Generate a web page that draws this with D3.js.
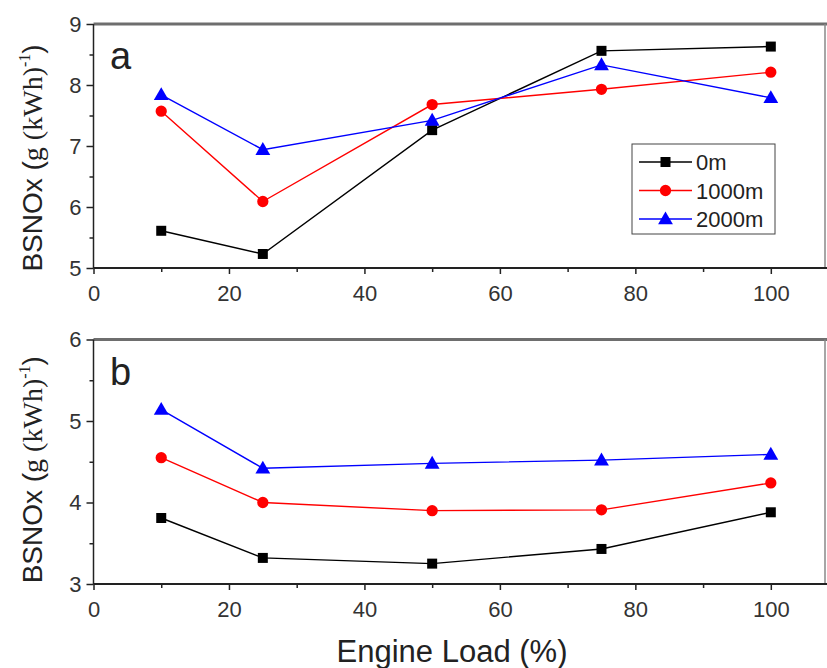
<!DOCTYPE html>
<html>
<head>
<meta charset="utf-8">
<script src="https://cdn.jsdelivr.net/npm/d3@7"></script>
<style>
 body{margin:0;background:#fff;}
 text{font-family:"Liberation Sans",Arial,sans-serif;}
</style>
</head>
<body>
<div id="chart"></div>
<script>
// engine load (%) shared by both panels
var loads=[10,25,50,75,100];
var seriesNames=["0m","1000m","2000m"];
var seriesColors=["#000000","#ff0000","#0000ff"];
var seriesShapes=["square","circle","triangle"];

// panel a values
var aZero=[5.61,5.23,7.26,8.56,8.63];
var aThousand=[7.57,6.09,7.68,7.93,8.21];
var aTwoThousand=[7.84,6.94,7.42,8.33,7.79];

// panel b values
var bZero=[3.81,3.32,3.25,3.43,3.88];
var bThousand=[4.55,4.0,3.9,3.91,4.24];
var bTwoThousand=[5.14,4.42,4.48,4.52,4.59];

var xTicks=[0,20,40,60,80,100];
var aYTicks=[5,6,7,8,9];
var bYTicks=[3,4,5,6];

var W=827,H=668;
var svg=d3.select("#chart").append("svg").attr("width",W).attr("height",H);

var x=d3.scaleLinear().domain([0,108]).range([93.5,825]);

function symPath(shape){
 if(shape==="square") return d3.symbol(d3.symbolSquare,100)();
 if(shape==="circle") return d3.symbol(d3.symbolCircle,100)();
 return d3.symbol(d3.symbolTriangle,95)();
}

function panel(top,bottom,domain,yTicks,data,letter,legend,titleShift){
 var y=d3.scaleLinear().domain(domain).range([bottom,top]);
 var g=svg.append("g");

 // top border (gray, thick) and right border
 g.append("line").attr("x1",x(0)).attr("x2",W).attr("y1",top).attr("y2",top)
  .attr("stroke","#6e6e6e").attr("stroke-width",3);
 g.append("line").attr("x1",x(108)).attr("x2",x(108)).attr("y1",top).attr("y2",bottom)
  .attr("stroke","#888").attr("stroke-width",1.5);

 // x axis
 var xa=g.append("g").attr("transform","translate(0,"+bottom+")")
  .call(d3.axisBottom(x).tickValues(xTicks).tickSize(6).tickPadding(11).tickFormat(d3.format("d")));
 g.append("g").attr("transform","translate(0,"+bottom+")")
  .call(d3.axisBottom(x).tickValues([10,30,50,70,90]).tickSize(4).tickFormat(""))
  .call(function(s){s.select(".domain").remove();});
 xa.select(".domain").attr("d","M"+x(0)+",0H"+W).attr("stroke","#222").attr("stroke-width",2);

 // y axis
 var ya=g.append("g").attr("transform","translate("+x(0)+",0)")
  .call(d3.axisLeft(y).tickValues(yTicks).tickSize(7).tickPadding(5).tickFormat(d3.format("d")));
 var minors=d3.range(domain[0]+0.5,domain[1],1);
 g.append("g").attr("transform","translate("+x(0)+",0)")
  .call(d3.axisLeft(y).tickValues(minors).tickSize(4).tickFormat(""))
  .call(function(s){s.select(".domain").remove();});
 ya.select(".domain").attr("d","M0,"+top+"V"+bottom).attr("stroke","#222").attr("stroke-width",1.5);

 g.selectAll(".tick line").attr("stroke","#222").attr("stroke-width",1.5);
 g.selectAll(".tick text").attr("font-size",22).attr("fill","#333")
  .attr("font-family","'Liberation Sans',Arial,sans-serif");

 // series
 data.forEach(function(vals,i){
  var pts=loads.map(function(l,j){return [l,vals[j]];});
  g.append("path").datum(pts)
   .attr("fill","none").attr("stroke",seriesColors[i]).attr("stroke-width",1.4)
   .attr("d",d3.line().x(function(d){return x(d[0]);}).y(function(d){return y(d[1]);}));
  g.selectAll(null).data(pts).enter().append("path")
   .attr("d",symPath(seriesShapes[i]))
   .attr("transform",function(d){return "translate("+x(d[0])+","+(y(d[1])+(seriesShapes[i]==="triangle"?1:0))+")";})
   .attr("fill",seriesColors[i]);
 });

 // panel letter
 g.append("text").attr("x",110).attr("y",top+45).attr("font-size",38).attr("fill","#222").text(letter);

 // y title
 var cy=(top+bottom)/2+titleShift;
 var t=g.append("text").attr("transform","translate(42,"+cy+") rotate(-90)")
  .attr("text-anchor","middle").attr("font-size",28).attr("fill","#222");
 t.append("tspan").text("BSNOx (");
 t.append("tspan").attr("font-family","'Liberation Serif','Times New Roman',serif").text("g (kWh)");
 t.append("tspan").attr("font-size",16).attr("dy",-12).attr("font-family","'Liberation Serif',serif").text("-1");
 t.append("tspan").attr("dy",12).text(")");

 if(legend){
  var lx=632,ly=144;
  g.append("rect").attr("x",lx).attr("y",ly).attr("width",143).attr("height",90)
   .attr("fill","#fff").attr("stroke","#444").attr("stroke-width",1);
  seriesNames.forEach(function(n,i){
   var yy=ly+18+i*28.5;
   g.append("line").attr("x1",lx+7).attr("x2",lx+60).attr("y1",yy).attr("y2",yy)
    .attr("stroke",seriesColors[i]).attr("stroke-width",1.4);
   g.append("path").attr("d",symPath(seriesShapes[i]))
    .attr("transform","translate("+(lx+33.5)+","+(yy+(seriesShapes[i]==="triangle"?1:0))+")")
    .attr("fill",seriesColors[i]);
   g.append("text").attr("x",lx+64).attr("y",yy+8).attr("font-size",22).attr("fill","#222").text(n);
  });
 }
}

panel(24,268,[5,9],aYTicks,[aZero,aThousand,aTwoThousand],"a",true,12);
panel(339.5,584,[3,6],bYTicks,[bZero,bThousand,bTwoThousand],"b",false,8);

svg.append("text").attr("x",452).attr("y",662).attr("text-anchor","middle")
 .attr("font-size",31).attr("fill","#222").text("Engine Load (%)");
</script>
</body>
</html>
